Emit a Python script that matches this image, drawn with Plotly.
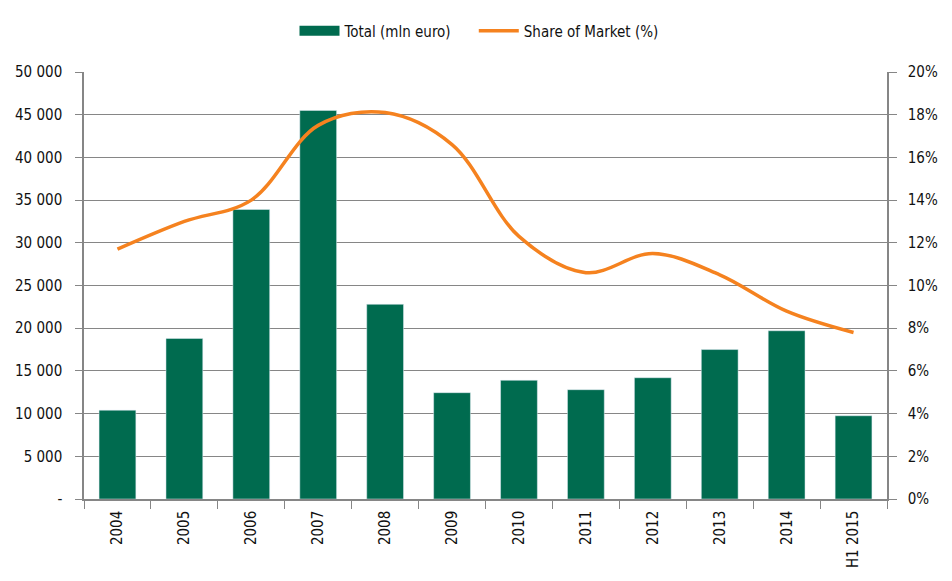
import plotly.graph_objects as go

years = ["2004", "2005", "2006", "2007", "2008", "2009", "2010", "2011", "2012", "2013", "2014", "H1 2015"]
total = [10400, 18800, 33900, 45500, 22800, 12450, 13900, 12800, 14200, 17500, 19700, 9750]
share = [0.117, 0.130, 0.140, 0.175, 0.181, 0.166, 0.123, 0.106, 0.115, 0.105, 0.088, 0.078]

left_ticks = [0, 5000, 10000, 15000, 20000, 25000, 30000, 35000, 40000, 45000, 50000]
left_text = ["-", "5 000", "10 000", "15 000", "20 000", "25 000", "30 000", "35 000", "40 000", "45 000", "50 000"]
right_ticks = [0, 0.02, 0.04, 0.06, 0.08, 0.10, 0.12, 0.14, 0.16, 0.18, 0.20]
right_text = ["0%", "2%", "4%", "6%", "8%", "10%", "12%", "14%", "16%", "18%", "20%"]

green = "#006B4F"
orange = "#F5821F"
grey = "#868686"
font = "DejaVu Sans Condensed, Liberation Sans Narrow, Roboto, sans-serif"

fig = go.Figure()
fig.add_trace(go.Bar(x=years, y=total, name="Total (mln euro)", marker_color=green,
                     width=0.55, showlegend=False))
# legend entry drawn as a wide block, like the original (nbsp's widen the gap to the next entry)
fig.add_trace(go.Scatter(x=[None], y=[None], name="Total (mln euro)" + "\u00a0" * 4, mode="lines",
                         line=dict(color=green, width=12)))
fig.add_trace(go.Scatter(x=years, y=share, name="Share of Market (%)", yaxis="y2",
                         mode="lines", line=dict(color=orange, width=3.5, shape="spline", smoothing=1)))

# page body has an 8px margin, so everything is nudged up/left by 8
fig.update_layout(
    width=952, height=581,
    margin=dict(l=76, r=73, t=64, b=90),
    plot_bgcolor="white", paper_bgcolor="white",
    font=dict(family=font, size=15, color="#111"),
    showlegend=True,
    legend=dict(orientation="h", x=471 / 952, xanchor="center", xref="container",
                y=1 - 23 / 581, yanchor="middle", yref="container",
                font=dict(size=15), traceorder="normal", itemwidth=40),
    xaxis=dict(tickangle=-90, showline=True, linecolor=grey, linewidth=1.5,
               ticks="outside", tickson="boundaries", ticklen=8, tickcolor=grey,
               showgrid=False, automargin=False, ticklabelstandoff=4),
    yaxis=dict(range=[0, 50000], tickvals=left_ticks, ticktext=left_text,
               showline=True, linecolor=grey, linewidth=1.5, ticks="outside", ticklen=7,
               tickcolor=grey, gridcolor=grey, gridwidth=1.2, zeroline=False, automargin=False,
               ticklabelstandoff=10),
    yaxis2=dict(range=[0, 0.20], tickvals=right_ticks, ticktext=right_text, overlaying="y",
                side="right", showline=True, linecolor=grey, linewidth=1.5, ticks="outside",
                ticklen=8, tickcolor=grey, showgrid=False, zeroline=False, automargin=False,
                ticklabelstandoff=8),
)

fig.write_html("out.html")
